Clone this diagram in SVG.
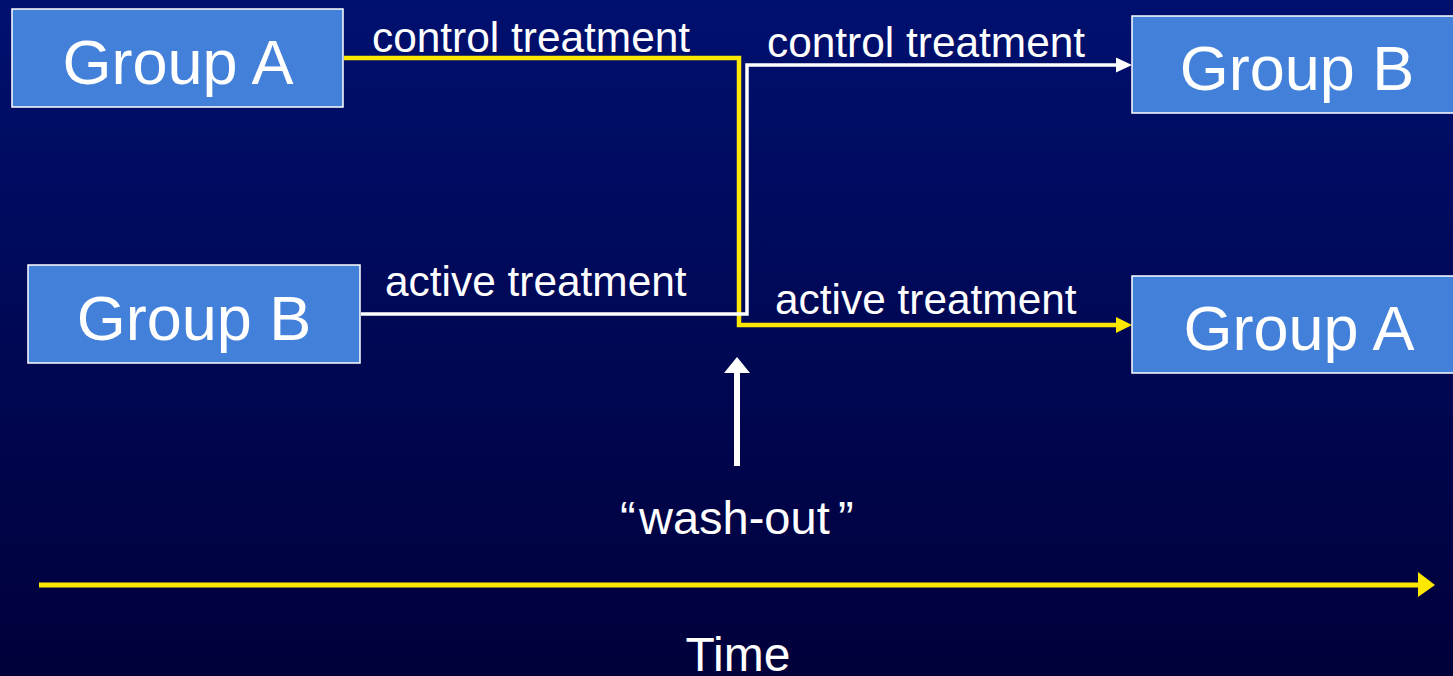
<svg xmlns="http://www.w3.org/2000/svg" width="1453" height="676" viewBox="0 0 1453 676">
<defs>
<linearGradient id="bg" x1="0" y1="0" x2="0" y2="1">
<stop offset="0" stop-color="#00106f"/>
<stop offset="1" stop-color="#00003a"/>
</linearGradient>
<style>
.box{fill:#4380d9;stroke:#ffffff;stroke-width:1.5}
.bt{font-family:"Liberation Sans",Arial,sans-serif;font-size:63px;fill:#ffffff;text-anchor:middle}
.lbl{font-family:"Liberation Sans",Arial,sans-serif;font-size:42.4px;fill:#ffffff}
.big{font-family:"Liberation Sans",Arial,sans-serif;fill:#ffffff}
.y{fill:none;stroke:#ffe800;stroke-width:4.5}
.w{fill:none;stroke:#ffffff;stroke-width:3.5}
</style>
</defs>
<rect x="0" y="0" width="1453" height="676" fill="url(#bg)"/>
<g id="connectors">
<polyline class="y" points="344,58 739,58 739,325 1118,325"/>
<polygon points="1116,317 1132,325 1116,333" fill="#ffe800"/>
<polyline class="w" points="361,314 747,314 747,65 1118,65"/>
<polygon points="1116,57.5 1132,65 1116,72.5" fill="#ffffff"/>
<line x1="737" y1="466" x2="737" y2="370" stroke="#ffffff" stroke-width="6"/>
<polygon points="724,373 737,357 750,373" fill="#ffffff"/>
<line x1="39" y1="585" x2="1420" y2="585" stroke="#ffe800" stroke-width="5"/>
<polygon points="1418,572 1435,585 1418,597" fill="#ffe800"/>
</g>
<g id="groupA-left">
<rect class="box" x="12" y="9" width="331" height="98"/>
<text class="bt" x="178" y="84">Group A</text>
</g>
<g id="groupB-left">
<rect class="box" x="28" y="265" width="332" height="98"/>
<text class="bt" x="194" y="340">Group B</text>
</g>
<g id="groupB-right">
<rect class="box" x="1132" y="16" width="330" height="97"/>
<text class="bt" x="1297" y="90">Group B</text>
</g>
<g id="groupA-right">
<rect class="box" x="1132" y="276" width="330" height="97"/>
<text class="bt" x="1299" y="350">Group A</text>
</g>
<g id="labels">
<text class="lbl" x="372" y="52">control treatment</text>
<text class="lbl" x="767" y="57">control treatment</text>
<text class="lbl" x="385" y="296">active treatment</text>
<text class="lbl" x="775" y="314">active treatment</text>
<text class="big" y="534" style="font-size:47px"><tspan x="620">“</tspan><tspan x="639">wash-out</tspan><tspan x="838">”</tspan></text>
<text class="big" x="738" y="671" text-anchor="middle" style="font-size:48px">Time</text>
</g>
</svg>
